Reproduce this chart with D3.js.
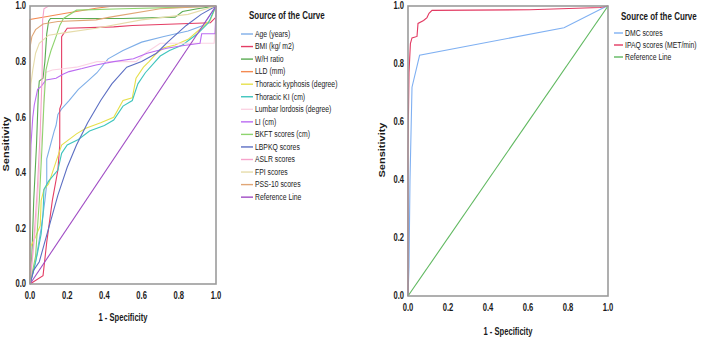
<!DOCTYPE html>
<html>
<head>
<meta charset="utf-8">
<script src="https://d3js.org/d3.v7.min.js"></script>
<style>
  body { margin: 0; background: #fff; }
  svg { display: block; }
  text { font-family: "Liberation Sans", Arial, sans-serif; fill: #1a1a1a; }
</style>
</head>
<body>
<svg id="chart" width="707" height="341"></svg>
<script>
// ---- data: [1 - specificity, sensitivity] ----
const age = [[0,0],[0.03,0.08],[0.06,0.2],[0.08,0.3],[0.09,0.36],[0.09,0.45],[0.11,0.5],[0.13,0.55],[0.14,0.57],[0.15,0.61],[0.17,0.63],[0.21,0.66],[0.26,0.7],[0.31,0.73],[0.36,0.76],[0.42,0.81],[0.5,0.84],[0.6,0.87],[0.72,0.89],[0.85,0.91],[0.93,0.93],[1,1]];
const bmi = [[0,0],[0.07,0.03],[0.09,0.15],[0.12,0.3],[0.15,0.41],[0.16,0.5],[0.16,0.63],[0.17,0.65],[0.17,0.89],[0.2,0.92],[0.45,0.925],[0.55,0.93],[0.97,0.94],[1,0.96],[1,1]];
const whRatio = [[0,0],[0.01,0.1],[0.02,0.3],[0.035,0.5],[0.045,0.69],[0.05,0.73],[0.07,0.74],[0.08,0.8],[0.09,0.9],[0.1,0.945],[0.11,0.955],[0.5,0.955],[0.78,0.96],[0.82,0.98],[0.9,0.99],[1,1]];
const lld = [[0,0],[0,0.952],[0.1,0.963],[0.2,0.975],[0.355,0.992],[0.45,1],[1,1]];
const kyphosis = [[0,0],[0,0.13],[0.03,0.17],[0.055,0.21],[0.06,0.3],[0.075,0.34],[0.1,0.36],[0.14,0.44],[0.17,0.5],[0.25,0.54],[0.3,0.56],[0.38,0.58],[0.45,0.6],[0.5,0.66],[0.55,0.67],[0.57,0.74],[0.61,0.78],[0.64,0.8],[0.68,0.83],[0.72,0.85],[0.78,0.86],[0.85,0.88],[0.92,0.92],[0.97,0.95],[1,1]];
const thoracicKi = [[0,0],[0.02,0.05],[0.04,0.11],[0.06,0.18],[0.07,0.25],[0.075,0.34],[0.1,0.37],[0.15,0.41],[0.17,0.47],[0.2,0.5],[0.26,0.52],[0.32,0.55],[0.4,0.57],[0.45,0.59],[0.5,0.64],[0.55,0.66],[0.58,0.72],[0.62,0.76],[0.66,0.79],[0.7,0.82],[0.75,0.84],[0.82,0.86],[0.9,0.9],[0.96,0.94],[1,1]];
const lordosis = [[0,0],[0.03,0.2],[0.05,0.4],[0.07,0.6],[0.08,0.76],[0.12,0.77],[0.25,0.78],[0.36,0.8],[0.57,0.8],[0.62,0.83],[0.7,0.866],[0.99,0.866],[1,0.95],[1,1]];
const li = [[0,0],[0,0.3],[0.005,0.5],[0.015,0.6],[0.023,0.644],[0.041,0.7],[0.059,0.71],[0.086,0.734],[0.14,0.74],[0.18,0.755],[0.21,0.764],[0.28,0.775],[0.355,0.788],[0.45,0.8],[0.556,0.81],[0.63,0.83],[0.735,0.848],[0.8,0.855],[0.914,0.866],[0.923,0.9],[0.995,0.9],[1,1]];
const bkft = [[0,0],[0.03,0.1],[0.05,0.3],[0.065,0.5],[0.075,0.65],[0.086,0.77],[0.1,0.81],[0.113,0.84],[0.14,0.89],[0.16,0.93],[0.18,0.955],[0.25,0.985],[0.5,0.99],[0.8,0.995],[1,1]];
const lbpkq = [[0,0],[0.02,0.05],[0.05,0.08],[0.1,0.2],[0.15,0.32],[0.2,0.42],[0.25,0.5],[0.31,0.58],[0.38,0.66],[0.44,0.72],[0.52,0.78],[0.6,0.8],[0.68,0.83],[0.74,0.87],[0.84,0.93],[0.92,0.97],[1,1]];
const aslr = [[0,0],[0.02,0.15],[0.04,0.35],[0.055,0.55],[0.065,0.75],[0.068,0.95],[0.075,0.99],[0.1,1],[1,1]];
const fpi = [[0,0],[0,0.6],[0.005,0.72],[0.015,0.77],[0.03,0.83],[0.05,0.866],[0.1,0.895],[0.2,0.905],[0.355,0.92],[0.6,0.95],[0.85,0.97],[1,1]];
const pss10 = [[0,0],[0,0.85],[0.01,0.89],[0.03,0.915],[0.07,0.935],[0.15,0.944],[0.355,0.95],[0.43,0.96],[0.7,0.99],[1,1]];
const referenceLine = [[0,0],[1,1]];

const dmc = [[0,0],[0.005,0.1],[0.01,0.4],[0.02,0.72],[0.058,0.83],[0.78,0.925],[0.98,0.995],[1,1]];
const ipaq = [[0,0],[0,0.5],[0.005,0.77],[0.012,0.87],[0.02,0.89],[0.045,0.895],[0.05,0.94],[0.078,0.95],[0.095,0.96],[0.105,0.975],[0.12,0.985],[0.61,0.987],[0.96,0.995],[1,1]];

const leftNames = ["Age (years)", "BMI  (kg/ m2)", "W/H ratio", "LLD (mm)", "Thoracic kyphosis (degree)", "Thoracic KI  (cm)", "Lumbar lordosis (degree)", "LI (cm)", "BKFT scores (cm)", "LBPKQ scores", "ASLR scores", "FPI scores", "PSS-10 scores", "Reference Line"];
const leftCurves = [age, bmi, whRatio, lld, kyphosis, thoracicKi, lordosis, li, bkft, lbpkq, aslr, fpi, pss10, referenceLine];
const rightNames = ["DMC scores", "IPAQ scores (MET/min)", "Reference Line"];
const rightCurves = [dmc, ipaq, referenceLine];
const ticks = [0, 0.2, 0.4, 0.6, 0.8, 1.0];

// colours (SPSS style)
const leftColors = ["#7eaee8", "#e43d64", "#5aab52", "#f48a52", "#e6e04c", "#3fc5bd", "#fbd3e3", "#bb6cf2", "#8ed46e", "#5c6fc3", "#f6a3cb", "#e6dcaa", "#e0a676", "#a04cc4"];
const rightColors = ["#7fb0f2", "#e23a62", "#5fb85f"];

const svg = d3.select("#chart");
const squeeze = 0.76; // the original picture is narrowed horizontally

function label(x, y, str, size, weight, anchor) {
  svg.append("g")
    .attr("transform", `translate(${x},${y}) scale(${squeeze},1)`)
    .append("text")
    .attr("text-anchor", anchor)
    .attr("dominant-baseline", "central")
    .style("font-size", size + "px")
    .style("font-weight", weight)
    .text(str);
}

function panel(cfg) {
  const x = d3.scaleLinear().domain([0, 1]).range([cfg.left, cfg.right]);
  const y = d3.scaleLinear().domain([0, 1]).range([cfg.bottom, cfg.top]);

  const line = d3.line().x(d => x(d[0])).y(d => y(d[1]));

  const g = svg.append("g");
  g.selectAll("path.curve")
    .data(cfg.curves)
    .join("path")
    .attr("class", "curve")
    .attr("d", line)
    .attr("fill", "none")
    .attr("stroke", (d, i) => cfg.colors[i])
    .attr("stroke-width", 1.1);

  // frame
  g.append("rect")
    .attr("x", x(0)).attr("y", y(1))
    .attr("width", x(1) - x(0)).attr("height", y(0) - y(1))
    .attr("fill", "none")
    .attr("stroke", "#9b9b9b")
    .attr("stroke-width", 1.6);

  // tick labels
  ticks.forEach(t => {
    label(x(0) - 4, y(t), d3.format(".1f")(t), 10, "bold", "end");
    label(x(t), cfg.bottom + 12, d3.format(".1f")(t), 10, "bold", "middle");
  });

  label((cfg.left + cfg.right) / 2, cfg.bottom + cfg.xTitleGap, "1 - Specificity", 10, "bold", "middle");

  svg.append("g")
    .attr("transform", `translate(${cfg.yTitleX},${cfg.yTitleY}) rotate(-90) scale(1,${squeeze})`)
    .append("text")
    .attr("text-anchor", "middle")
    .attr("dominant-baseline", "central")
    .style("font-size", "11px")
    .style("font-weight", "bold")
    .text("Sensitivity");

  // legend
  label(cfg.legX, cfg.legY, "Source of the Curve", 10.5, "bold", "start");
  cfg.names.forEach((n, i) => {
    const yy = cfg.legY + cfg.legFirst + i * cfg.legStep;
    svg.append("line")
      .attr("x1", cfg.legLineX).attr("x2", cfg.legLineX + cfg.legLineW)
      .attr("y1", yy).attr("y2", yy)
      .attr("stroke", cfg.colors[i])
      .attr("stroke-width", 1.4);
    label(cfg.legLineX + cfg.legLineW + 2, yy, n, 9, "normal", "start");
  });
}

panel({
  left: 30, right: 216, top: 6, bottom: 284,
  curves: leftCurves, colors: leftColors, names: leftNames,
  xTitleGap: 34, yTitleX: 6, yTitleY: 144,
  legX: 249, legY: 16, legFirst: 18, legStep: 12.55, legLineX: 241, legLineW: 12
});

panel({
  left: 408, right: 608, top: 6, bottom: 296,
  curves: rightCurves, colors: rightColors, names: rightNames,
  xTitleGap: 36, yTitleX: 382, yTitleY: 150,
  legX: 621, legY: 17, legFirst: 16, legStep: 12, legLineX: 614, legLineW: 9
});
</script>
</body>
</html>
